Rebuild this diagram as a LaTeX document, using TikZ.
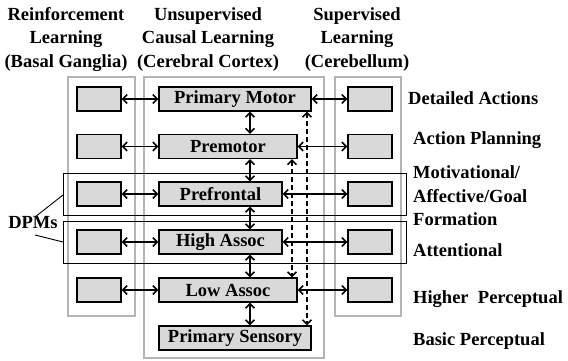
\documentclass[tikz,border=0pt]{standalone}
\usepackage{fontspec}
\setmainfont{Liberation Serif}
\usetikzlibrary{arrows.meta}
\definecolor{boxfill}{RGB}{217,217,217}
\definecolor{colgray}{RGB}{180,180,180}
\begin{document}
\begin{tikzpicture}[x=1pt,y=-1pt,
  every node/.style={font=\bfseries\fontsize{18.5}{23.5}\selectfont, inner sep=0pt},
  colbox/.style={draw=colgray, line width=1.2pt},
  smallbox/.style={draw=black, fill=boxfill, line width=1.3pt, minimum width=44pt, minimum height=24pt},
  midbox/.style={draw=black, fill=boxfill, line width=1.3pt, minimum height=24pt},
  dpmbox/.style={draw=black, line width=0.9pt, minimum width=343pt, minimum height=42pt},
  arr/.style={{Straight Barb[length=4.5pt,width=9pt]}-{Straight Barb[length=4.5pt,width=9pt]}, line width=1.5pt},
  lab/.style={anchor=west}
]
\useasboundingbox (0,0) rectangle (568,360);
% columns
\draw[colbox] (68,77) rectangle (135,316);
\draw[colbox] (144,77) rectangle (324,358);
\draw[colbox] (335,77) rectangle (401,316);
% headers
\node[align=center] (h1) at (66,39.5) {Reinforcement\\Learning\\(Basal Ganglia)};
\node[align=center] (h2) at (208,39.5) {Unsupervised\\Causal Learning\\(Cerebral Cortex)};
\node[align=center] (h3) at (357,39.5) {Supervised\\Learning\\(Cerebellum)};
% DPM boxes
\node[dpmbox] (dpm1) at (234.5,194) {};
\node[dpmbox] (dpm2) at (234.5,242) {};
\node (dpm) at (33,223) {DPMs};
\coordinate (e1) at (63,195);
\coordinate (e2) at (63,242);
\draw[line width=0.9pt] (35,217) -- (e1);
\draw[line width=0.9pt] (35,235) -- (e2);
% left boxes
\node[smallbox] (L1) at (99,99) {};
\node[smallbox] (L2) at (99,146.5) {};
\node[smallbox] (L3) at (99,194) {};
\node[smallbox] (L4) at (99,242) {};
\node[smallbox] (L5) at (99,290) {};
% right boxes
\node[smallbox] (R1) at (370,99) {};
\node[smallbox] (R2) at (370,146.5) {};
\node[smallbox] (R3) at (370,194) {};
\node[smallbox] (R4) at (370,242) {};
\node[smallbox] (R5) at (370,290) {};
% middle boxes
\node[midbox, minimum width=152pt] (PM) at (235,99) {Primary Motor};
\node[midbox, minimum width=138pt] (Pre) at (228,146.5) {Premotor};
\node[midbox, minimum width=123pt] (Pref) at (220.5,194) {Prefrontal};
\node[midbox, minimum width=123pt] (HA) at (220.5,242) {High Assoc};
\node[midbox, minimum width=138pt] (LA) at (228,290) {Low Assoc};
\node[midbox, minimum width=152pt] (PS) at (235,338) {Primary Sensory};
% horizontal arrows
\draw[arr] (L1) -- (PM);
\draw[arr] (L2) -- (Pre);
\draw[arr] (L3) -- (Pref);
\draw[arr] (L4) -- (HA);
\draw[arr] (L5) -- (LA);
\draw[arr] (PM) -- (R1);
\draw[arr] (Pre) -- (R2);
\draw[arr] (Pref) -- (R3);
\draw[arr] (HA) -- (R4);
\draw[arr] (LA) -- (R5);
% vertical arrows
\coordinate (va) at (250,0);
\draw[arr] (va |- PM.south) -- (va |- Pre.north);
\draw[arr] (va |- Pre.south) -- (va |- Pref.north);
\draw[arr] (va |- Pref.south) -- (va |- HA.north);
\draw[arr] (va |- HA.south) -- (va |- LA.north);
\draw[arr] (va |- LA.south) -- (va |- PS.north);
% dashed long arrows
\coordinate (da) at (307,0);
\coordinate (db) at (292,0);
\draw[arr, dash pattern=on 5pt off 3pt] (da |- PM.south) -- (da |- PS.north);
\draw[arr, dash pattern=on 5pt off 3pt] (db |- Pre.south) -- (db |- LA.north);
% right labels
\node[lab] (t1) at (408,98) {Detailed Actions};
\node[lab] (t2) at (413,140) {Action Planning};
\node[lab, align=left] (t3) at (413,196) {Motivational/\\Affective/Goal\\Formation};
\node[lab] (t4) at (413,250) {Attentional};
\node[lab] (t5) at (413,299) {Higher\ \ Perceptual};
\node[lab] (t6) at (413,341) {Basic Perceptual};
\end{tikzpicture}
\end{document}
